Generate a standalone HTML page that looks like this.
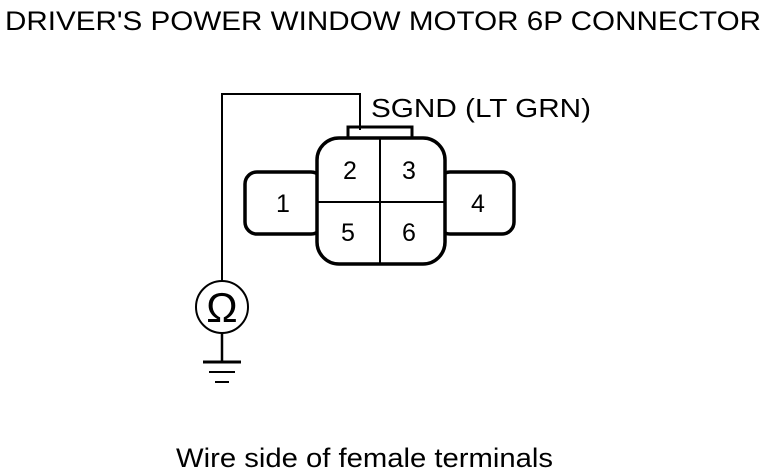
<!DOCTYPE html>
<html><head><style>
html,body{margin:0;padding:0;background:#fff;}
svg{display:block;}
text{font-family:"Liberation Sans",sans-serif;fill:#000;}
</style></head><body>
<svg width="768" height="474" viewBox="0 0 768 474" xmlns="http://www.w3.org/2000/svg">
<text x="5" y="30" font-size="27" textLength="756" lengthAdjust="spacingAndGlyphs">DRIVER'S POWER WINDOW MOTOR 6P CONNECTOR</text>
<text x="371" y="117" font-size="26" textLength="220" lengthAdjust="spacingAndGlyphs">SGND (LT GRN)</text>
<g fill="none" stroke="#000">
<polyline points="222,281 222,94 360,94 360,130" stroke-width="2"/>
<rect x="348" y="127" width="64" height="12" stroke-width="3"/>
<rect x="245" y="172" width="78" height="62" rx="12" stroke-width="3.5" fill="#fff"/>
<rect x="438" y="172" width="76" height="62" rx="12" stroke-width="3.5" fill="#fff"/>
<rect x="317" y="138" width="128" height="126" rx="22" stroke-width="3.5" fill="#fff"/>
<line x1="380" y1="138" x2="380" y2="264" stroke-width="2"/>
<line x1="317" y1="202" x2="445" y2="202" stroke-width="2"/>
<circle cx="222" cy="307" r="26" stroke-width="2"/>
<line x1="222" y1="333" x2="222" y2="362" stroke-width="2.5"/>
<line x1="203" y1="362" x2="241" y2="362" stroke-width="3"/>
<line x1="209" y1="372" x2="235" y2="372" stroke-width="2"/>
<line x1="215" y1="382" x2="229" y2="382" stroke-width="2"/>
</g>
<text x="222" y="322" font-size="42" text-anchor="middle">Ω</text>
<g font-size="25" text-anchor="middle">
<text x="283" y="212">1</text>
<text x="350" y="179">2</text>
<text x="409" y="179">3</text>
<text x="478" y="212">4</text>
<text x="348" y="241">5</text>
<text x="409" y="241">6</text>
</g>
<text x="176" y="467" font-size="27" textLength="377" lengthAdjust="spacingAndGlyphs">Wire side of female terminals</text>
</svg>
</body></html>
